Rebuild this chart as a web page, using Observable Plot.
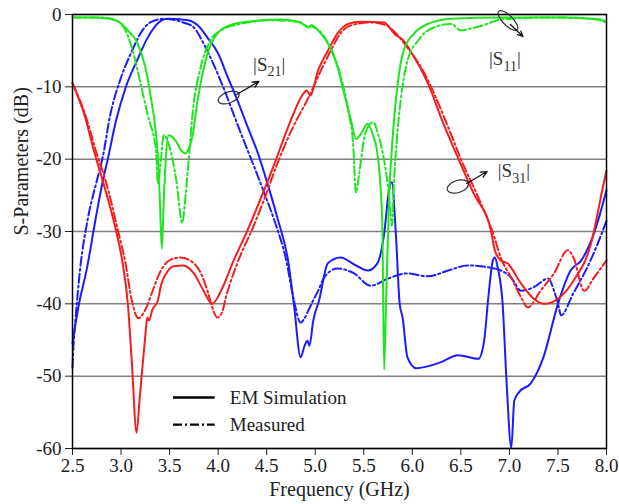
<!DOCTYPE html>
<html>
<head>
<meta charset="utf-8">
<script src="https://cdn.jsdelivr.net/npm/d3@7"></script>
<script src="https://cdn.jsdelivr.net/npm/@observablehq/plot@0.6"></script>
<style>
  html, body { margin: 0; padding: 0; background: #fff; }
  #chart { width: 619px; height: 504px; }
</style>
</head>
<body>
<div id="chart"></div>
<script>
// ---- Data (frequency GHz, dB) ----
const s11Sim = [[2.50,-0.4],[2.69,-0.4],[2.89,-0.6],[2.99,-1.1],[3.07,-2.2],[3.17,-4.0],[3.25,-7.3],[3.30,-10.9],[3.36,-16.5],[3.38,-19.8],[3.40,-25.7],[3.42,-32.4],[3.44,-25.7],[3.46,-20.2],[3.49,-16.7],[3.56,-17.4],[3.62,-18.8],[3.66,-19.2],[3.71,-18.1],[3.74,-16.5],[3.78,-12.6],[3.82,-9.5],[3.90,-5.0],[4.00,-2.5],[4.08,-1.7],[4.16,-1.3],[4.44,-0.8],[4.64,-0.7],[4.85,-1.1],[4.90,-1.6],[4.93,-1.8],[4.96,-1.5],[5.03,-2.2],[5.08,-3.0],[5.13,-4.0],[5.23,-7.3],[5.29,-10.5],[5.37,-14.7],[5.42,-17.2],[5.47,-16.5],[5.54,-15.1],[5.59,-16.5],[5.64,-19.2],[5.69,-28.5],[5.71,-49.1],[5.73,-39.5],[5.76,-25.7],[5.80,-16.5],[5.85,-9.5],[5.91,-5.0],[6.02,-2.6],[6.16,-1.3],[6.40,-0.6],[6.91,-0.4],[7.53,-0.4],[7.84,-0.6],[7.94,-0.8],[8.00,-1.1]];
const s11Meas = [[2.50,-0.4],[2.80,-0.4],[2.94,-0.8],[3.03,-1.8],[3.12,-5.0],[3.20,-9.5],[3.28,-14.2],[3.36,-18.8],[3.38,-23.4],[3.41,-20.2],[3.44,-16.7],[3.51,-18.8],[3.57,-23.0],[3.63,-28.8],[3.66,-25.7],[3.69,-21.2],[3.74,-13.3],[3.82,-7.3],[3.92,-3.6],[4.03,-2.2],[4.23,-1.3],[4.54,-0.8],[4.83,-1.0],[4.90,-1.5],[4.97,-1.7],[5.06,-2.5],[5.16,-4.7],[5.26,-8.4],[5.34,-13.3],[5.39,-17.8],[5.42,-24.6],[5.45,-22.3],[5.50,-17.4],[5.56,-15.2],[5.60,-14.9],[5.65,-16.7],[5.71,-20.2],[5.76,-25.0],[5.79,-29.2],[5.81,-23.4],[5.84,-17.4],[5.88,-11.9],[5.95,-6.4],[6.06,-3.6],[6.22,-1.8],[6.40,-1.3],[6.50,-2.2],[6.58,-2.0],[6.68,-1.7],[6.81,-1.1],[6.91,-0.7],[7.43,-0.4],[7.94,-0.7],[8.00,-1.0]];
const s21Sim = [[2.50,-45.5],[2.52,-43.7],[2.56,-40.5],[2.65,-35.0],[2.74,-28.1],[2.82,-22.5],[2.86,-20.2],[2.95,-14.6],[3.05,-10.0],[3.17,-6.2],[3.27,-3.3],[3.38,-1.2],[3.48,-0.6],[3.69,-0.8],[3.79,-1.5],[3.89,-3.2],[4.00,-5.4],[4.10,-8.7],[4.20,-11.9],[4.30,-15.4],[4.41,-19.2],[4.50,-23.0],[4.61,-28.1],[4.72,-34.0],[4.78,-40.0],[4.85,-47.4],[4.89,-45.8],[4.92,-45.1],[4.94,-45.8],[4.98,-42.3],[5.04,-39.5],[5.13,-34.4],[5.26,-33.6],[5.42,-34.7],[5.54,-35.4],[5.64,-34.4],[5.71,-30.3],[5.76,-24.3],[5.79,-23.2],[5.83,-30.3],[5.87,-40.0],[5.90,-41.9],[5.95,-47.4],[6.04,-48.9],[6.29,-48.1],[6.47,-47.1],[6.68,-47.6],[6.74,-45.1],[6.78,-39.5],[6.83,-34.0],[6.85,-33.6],[6.88,-35.0],[6.93,-40.0],[6.97,-50.6],[7.02,-59.9],[7.05,-53.4],[7.10,-52.2],[7.22,-51.0],[7.35,-47.4],[7.50,-40.0],[7.63,-35.4],[7.74,-34.0],[7.87,-30.3],[8.00,-24.3]];
const s21Meas = [[2.50,-48.8],[2.51,-45.8],[2.53,-42.3],[2.58,-35.0],[2.66,-28.1],[2.76,-22.5],[2.81,-19.8],[2.89,-13.8],[2.99,-9.1],[3.10,-5.4],[3.22,-2.2],[3.30,-1.1],[3.44,-0.6],[3.64,-1.1],[3.75,-1.8],[3.85,-4.0],[3.95,-6.8],[4.06,-10.3],[4.16,-13.8],[4.26,-17.3],[4.37,-21.0],[4.47,-24.5],[4.59,-28.9],[4.70,-33.9],[4.78,-39.5],[4.85,-42.6],[4.89,-42.0],[4.93,-40.9],[4.98,-39.5],[5.03,-38.2],[5.09,-36.4],[5.23,-35.1],[5.40,-35.8],[5.57,-37.5],[5.75,-36.5],[5.95,-35.8],[6.16,-36.2],[6.37,-35.4],[6.57,-34.7],[6.84,-35.1],[7.02,-36.4],[7.12,-38.2],[7.25,-37.7],[7.40,-36.5],[7.46,-38.2],[7.51,-40.5],[7.53,-41.6],[7.66,-38.5],[7.80,-35.0],[7.90,-32.0],[8.00,-28.5]];
const s31Sim = [[2.50,-9.5],[2.63,-14.2],[2.72,-18.8],[2.82,-23.4],[2.94,-29.4],[3.02,-34.7],[3.07,-40.0],[3.11,-47.8],[3.16,-57.8],[3.19,-53.4],[3.22,-48.8],[3.25,-44.4],[3.27,-41.9],[3.29,-42.3],[3.32,-40.9],[3.38,-39.5],[3.41,-37.5],[3.47,-35.7],[3.54,-34.8],[3.64,-34.7],[3.75,-35.8],[3.85,-38.2],[3.94,-40.0],[4.03,-38.2],[4.16,-34.0],[4.30,-29.9],[4.44,-25.4],[4.57,-21.0],[4.72,-15.6],[4.88,-10.9],[4.91,-10.5],[4.95,-11.2],[5.03,-7.7],[5.13,-5.0],[5.23,-2.6],[5.34,-1.3],[5.47,-1.0],[5.71,-1.1],[5.77,-1.9],[5.81,-2.6],[5.91,-3.6],[5.98,-5.0],[6.16,-9.5],[6.32,-15.1],[6.47,-19.8],[6.63,-24.7],[6.81,-29.9],[6.85,-32.6],[6.91,-34.0],[6.98,-34.4],[7.12,-37.2],[7.25,-39.3],[7.36,-40.0],[7.50,-39.3],[7.66,-36.8],[7.84,-31.7],[7.97,-23.4],[8.00,-21.6]];
const s31Meas = [[2.50,-9.5],[2.64,-14.2],[2.74,-18.8],[2.85,-23.4],[2.96,-29.4],[3.05,-34.7],[3.11,-39.5],[3.18,-42.0],[3.23,-41.3],[3.27,-40.2],[3.32,-38.4],[3.41,-35.4],[3.51,-33.9],[3.61,-33.6],[3.75,-34.4],[3.82,-35.7],[3.89,-38.2],[3.95,-40.9],[3.99,-41.9],[4.04,-41.2],[4.08,-39.1],[4.20,-34.3],[4.36,-29.4],[4.47,-25.7],[4.61,-20.6],[4.77,-15.6],[4.93,-11.5],[5.06,-7.7],[5.16,-5.0],[5.26,-2.6],[5.37,-1.5],[5.57,-1.1],[5.73,-1.5],[5.83,-2.6],[5.95,-4.6],[6.09,-7.3],[6.21,-10.5],[6.37,-15.6],[6.51,-20.3],[6.68,-25.3],[6.84,-30.6],[6.91,-33.6],[7.02,-36.4],[7.12,-39.1],[7.19,-40.5],[7.32,-38.2],[7.46,-35.8],[7.60,-32.6],[7.66,-33.6],[7.77,-38.2],[7.87,-36.4],[8.00,-34.0]];

const xTicks = [2.5, 3.0, 3.5, 4.0, 4.5, 5.0, 5.5, 6.0, 6.5, 7.0, 7.5, 8.0];
const yTicks = [-60, -50, -40, -30, -20, -10, 0];
const legendLabels = ["EM Simulation", "Measured"];
const annotationLabels = ["|S21|", "|S11|", "|S31|"];

// ---- Styling / layout ----
const GREEN = "#1ee61e", BLUE = "#1c1cff", RED = "#f51d1d";
const DASHDOT = "9,3,2,3";
const FONT = "'Liberation Serif', 'Times New Roman', serif";

const series = [
  {data: s21Meas, color: BLUE, dash: DASHDOT},
  {data: s21Sim,  color: BLUE, dash: null},
  {data: s31Meas, color: RED,  dash: DASHDOT},
  {data: s31Sim,  color: RED,  dash: null},
  {data: s11Meas, color: GREEN, dash: DASHDOT},
  {data: s11Sim,  color: GREEN, dash: null}
];

// annotation placement (data coordinates)
const annPlace = [
  {label: annotationLabels[0], tx: 4.36, ty: -6.9, cx: 4.108, cy: -11.48, rx: 11, ry: 5.5, rot: -20, ax1: 4.19, ay1: -11.06, ax2: 4.42, ay2: -9.26},
  {label: annotationLabels[1], tx: 6.79, ty: -6.1, cx: 6.985, cy: -0.83, rx: 13, ry: 5, rot: 45, ax1: 7.01, ay1: -1.38, ax2: 7.14, ay2: -3.04},
  {label: annotationLabels[2], tx: 6.88, ty: -21.6, cx: 6.469, cy: -23.78, rx: 11, ry: 6, rot: -18, ax1: 6.56, ay1: -23.36, ax2: 6.77, ay2: -21.71}
];

function ellipseSymbol(rx, ry, deg) {
  const a = deg * Math.PI / 180, c = Math.cos(a), s = Math.sin(a), k = 0.5523;
  const P = t => { const x = rx*Math.cos(t), y = ry*Math.sin(t); return [x*c - y*s, x*s + y*c]; };
  const D = t => { const x = -rx*Math.sin(t), y = ry*Math.cos(t); return [x*c - y*s, x*s + y*c]; };
  return {
    draw(ctx) {
      const p0 = P(0); ctx.moveTo(p0[0], p0[1]);
      for (let i = 0; i < 4; i++) {
        const t0 = i*Math.PI/2, t1 = (i+1)*Math.PI/2;
        const a0 = P(t0), d0 = D(t0), a1 = P(t1), d1 = D(t1);
        ctx.bezierCurveTo(a0[0]+k*d0[0], a0[1]+k*d0[1], a1[0]-k*d1[0], a1[1]-k*d1[1], a1[0], a1[1]);
      }
      ctx.closePath();
    }
  };
}

const marks = [
  Plot.gridY(yTicks, {stroke: "#808080", strokeOpacity: 1, strokeWidth: 1.5}),
  ...series.map(s => Plot.line(s.data, {
    x: d => d[0], y: d => d[1], stroke: s.color, strokeWidth: 2,
    strokeDasharray: s.dash, curve: "monotone-x"
  })),
  Plot.axisX({ticks: xTicks, tickFormat: d3.format(".1f"), tickSize: 7, tickPadding: 3, label: null, fill: "#222"}),
  Plot.axisY({ticks: yTicks, tickFormat: d => String(d), tickSize: 7, tickPadding: 4, label: null, fill: "#222"}),
  Plot.frame({stroke: "black", strokeWidth: 1.5}),
  // axis titles
  Plot.text(["Frequency (GHz)"], {text: d => d, frameAnchor: "bottom", dy: 47, fontSize: 20, fill: "#222"}),
  Plot.text(["S-Parameters (dB)"], {text: d => d, frameAnchor: "left", rotate: -90, dx: -51, dy: 4, fontSize: 20, fill: "#222"}),
  // annotations
  ...annPlace.map(a => Plot.dot([a], {x: "cx", y: "cy", r: 10, symbol: ellipseSymbol(a.rx, a.ry, a.rot), stroke: "#333", strokeWidth: 1.2, fill: "none"})),
  Plot.arrow(annPlace, {x1: "ax1", y1: "ay1", x2: "ax2", y2: "ay2", stroke: "#111", strokeWidth: 1.3, headLength: 8, headAngle: 50}),
  Plot.text(annPlace, {x: "tx", y: "ty", text: "label", textAnchor: "start", fontSize: 19, fill: "#333", className: "annlab"}),
  // legend
  Plot.ruleY([-52.95], {x1: 3.54, x2: 3.97, stroke: "black", strokeWidth: 2.5}),
  Plot.ruleY([-56.7], {x1: 3.54, x2: 3.97, stroke: "black", strokeWidth: 2.2, strokeDasharray: DASHDOT}),
  Plot.text([legendLabels[0]], {text: d => d, x: 4.12, y: -52.95, textAnchor: "start", fontSize: 19, fill: "#222"}),
  Plot.text([legendLabels[1]], {text: d => d, x: 4.12, y: -56.7, textAnchor: "start", fontSize: 19, fill: "#222"})
];

const plot = Plot.plot({
  width: 619, height: 504,
  marginLeft: 72, marginRight: 13, marginTop: 14, marginBottom: 56,
  x: {domain: [2.5, 8.0]},
  y: {domain: [-60, 0]},
  style: {fontFamily: FONT, fontSize: "19px", background: "white", color: "#222"},
  marks
});

// subscripts for |Sij| labels
d3.select(plot).selectAll(".annlab text").each(function() {
  const t = d3.select(this);
  const s = t.text();
  const m = s.match(/^\|S(\d+)\|$/);
  if (!m) return;
  t.text(null);
  t.append("tspan").text("|S");
  t.append("tspan").attr("dy", 6).attr("font-size", 14).text(m[1]);
  t.append("tspan").attr("dy", -6).text("|");
});

document.getElementById("chart").appendChild(plot);
</script>
</body>
</html>
